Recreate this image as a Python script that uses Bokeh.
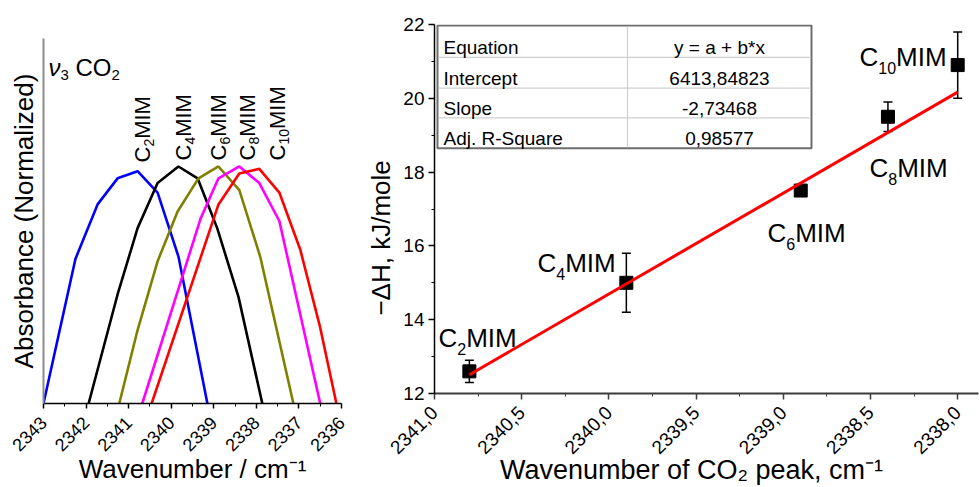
import math
from bokeh.plotting import figure
from bokeh.models import (Range1d, FixedTicker, Label, Whisker, TeeHead,
                          ColumnDataSource, CustomJSTickFormatter)
from bokeh.embed import file_html
from bokeh.resources import INLINE

FONT = "Liberation Sans"

# ---------------- data : left panel (normalized nu3 CO2 band) ----------------
wn_c2 = [2343.00, 2342.25, 2341.73, 2341.26, 2340.79, 2340.32, 2339.83, 2339.15]
ab_c2 = [0.00, 0.61, 0.84, 0.95, 0.98, 0.89, 0.62, 0.00]
wn_c4 = [2341.94, 2341.26, 2340.79, 2340.32, 2339.83, 2339.38, 2338.92, 2338.42, 2337.86]
ab_c4 = [0.00, 0.46, 0.74, 0.93, 1.00, 0.95, 0.74, 0.45, 0.00]
wn_c6 = [2341.22, 2340.79, 2340.32, 2339.85, 2339.36, 2338.89, 2338.40, 2337.91, 2337.13]
ab_c6 = [0.00, 0.31, 0.60, 0.81, 0.95, 1.00, 0.90, 0.62, 0.00]
wn_c8 = [2340.68, 2339.31, 2338.89, 2338.40, 2337.93, 2337.46, 2336.50]
ab_c8 = [0.00, 0.78, 0.95, 1.00, 0.93, 0.77, 0.00]
wn_c10 = [2340.46, 2338.89, 2338.40, 2337.93, 2337.46, 2336.97, 2336.50, 2336.12]
ab_c10 = [0.00, 0.84, 0.97, 0.99, 0.89, 0.65, 0.32, 0.00]
spec_colors = ["#0000FF", "#000000", "#808000", "#FF00FF", "#FF0000"]
chain = ["2", "4", "6", "8", "10"]
left_ticks = [2343, 2342, 2341, 2340, 2339, 2338, 2337, 2336]
left_minor = [2342.5, 2341.5, 2340.5, 2339.5, 2338.5, 2337.5, 2336.5]
left_xtitle = "Wavenumber / cm\u207b\u00b9"
left_ytitle = "Absorbance (Normalized)"

# ---------------- data : right panel (enthalpy vs peak position) ----------------
peak_wn = [2340.80, 2339.90, 2338.90, 2338.40, 2338.00]
dH = [12.6, 15.0, 17.5, 19.5, 20.9]
dH_err = [0.3, 0.8, 0.15, 0.4, 0.9]
fit_intercept = 6413.84823
fit_slope = -2.73468
table_rows = [("Equation", "y = a + b*x"), ("Intercept", "6413,84823"),
              ("Slope", "-2,73468"), ("Adj. R-Square", "0,98577")]
right_xticks = [2341.0, 2340.5, 2340.0, 2339.5, 2339.0, 2338.5, 2338.0]
right_xminor = [2340.75, 2340.25, 2339.75, 2339.25, 2338.75, 2338.25]
right_yticks = [12, 14, 16, 18, 20, 22]
right_yminor = [13, 15, 17, 19, 21]
right_xtitle = "Wavenumber of CO\u2082 peak, cm\u207b\u00b9"
right_ytitle = "\u2212\u0394H, kJ/mole"

# ---------------- text helpers ----------------
ARIAL = {' ': 278, '(': 333, ')': 333, '*': 389, '+': 584, ',': 278, '-': 333, '.': 278,
         '/': 278, '=': 584, 'A': 667, 'C': 722, 'E': 667, 'H': 722, 'I': 278, 'J': 500,
         'M': 833, 'N': 722, 'O': 778, 'R': 722, 'S': 667, 'W': 944, 'a': 556, 'b': 556,
         'c': 500, 'd': 556, 'e': 556, 'f': 278, 'i': 222, 'j': 222, 'k': 500, 'l': 222,
         'm': 833, 'n': 556, 'o': 556, 'p': 556, 'q': 556, 'r': 333, 's': 500, 't': 278,
         'u': 556, 'v': 500, 'x': 500, 'y': 500, 'z': 500, 'ν': 500, 'Δ': 668, '−': 584}


def tw(text, size):
    return sum(ARIAL.get(ch, 556) for ch in text) * size / 1000.0


def lab(p, x, y, text, size, angle=0.0, align="left", style="normal"):
    p.add_layout(Label(x=x, y=y, x_units="screen", y_units="screen", text=text,
                       angle=angle, text_font=FONT, text_font_size=f"{size}px",
                       text_font_style=style, text_align=align,
                       text_baseline="alphabetic", text_color="black"))


def rich(p, x, y, parts, vertical=False):
    adv = 0.0
    for part in parts:
        t, s, sh = part[0], part[1], part[2]
        st = part[3] if len(part) > 3 else "normal"
        lead = len(t) - len(t.lstrip(" "))
        adv += tw(" " * lead, s)
        t = t.strip(" ")
        if vertical:
            lab(p, x - sh, y + adv, t, s, angle=math.pi / 2, style=st)
        else:
            lab(p, x + adv, y + sh, t, s, style=st)
        adv += tw(t, s)


# ---------------- layout constants (page has no margin) ----------------
H = 487
W1, L1, T1, FW1, FH1 = 360, 43, 38, 298, 365
W2, L2, T2, FW2, FH2 = 619, 74, 24, 544, 370
OX1, OY1 = L1, T1 + FH1            # screen origin of left frame
OX2, OY2 = W1 + L2, T2 + FH2       # screen origin of right frame
PX_PER_UNIT_R = 174.4
XR1 = 2341.0 - FW2 / PX_PER_UNIT_R


def s1(sx, sy):
    return sx - OX1, OY1 - sy


def s2(sx, sy):
    return sx - OX2, OY2 - sy


def style_axis(ax, color, width, size, tick_out, minor_out):
    ax.axis_line_color = color
    ax.axis_line_width = width
    ax.major_tick_line_color = color
    ax.minor_tick_line_color = color
    ax.major_tick_line_width = 1.5
    ax.major_tick_out, ax.major_tick_in = tick_out, 0
    ax.minor_tick_out, ax.minor_tick_in = minor_out, 0
    ax.major_label_text_font = FONT
    ax.major_label_text_font_size = f"{size}px"
    ax.major_label_text_color = "black"
    ax.axis_label_text_font = FONT
    ax.axis_label_text_font_style = "normal"
    ax.axis_label_text_color = "black"


# ================= left figure =================
p1 = figure(width=W1, height=H, output_backend="svg", toolbar_location=None,
            x_range=Range1d(2343, 2336), y_range=Range1d(0, 1.54),
            min_border_left=L1, min_border_right=W1 - L1 - FW1,
            min_border_top=T1, min_border_bottom=H - T1 - FH1)
p1.title.visible = False
p1.outline_line_color = None
p1.grid.visible = False

spectra = [(wn_c2, ab_c2), (wn_c4, ab_c4), (wn_c6, ab_c6), (wn_c8, ab_c8), (wn_c10, ab_c10)]
for (wx, ay), col in zip(spectra, spec_colors):
    p1.line(wx, ay, line_color=col, line_width=2.6)

xa = p1.xaxis[0]
xa.ticker = FixedTicker(ticks=left_ticks, minor_ticks=left_minor)
style_axis(xa, "black", 1.5, 18, 5, 3)
xa.major_label_orientation = math.pi / 4
xa.major_label_standoff = 11
xa.axis_label = left_xtitle
xa.axis_label_text_font_size = "26px"
xa.axis_label_standoff = -6

ya = p1.yaxis[0]
ya.ticker = FixedTicker(ticks=[])
style_axis(ya, "#8c8c8c", 2, 18, 0, 0)
ya.major_tick_line_color = None
ya.minor_tick_line_color = None
ya.major_label_standoff = 0
ya.axis_label = left_ytitle
ya.axis_label_text_font_size = "26px"
ya.axis_label_standoff = 5

rich(p1, *s1(48, 67), [("ν", 24, 0, "italic"), ("3", 15, -7), (" CO", 24, 0), ("2", 15, -7)])
label_pos_left = [(142, 162), (183, 160), (218, 160), (247, 160), (277, 160)]
for (bx, by), n in zip(label_pos_left, chain):
    rich(p1, *s1(bx, by), [("C", 22, 0), (n, 14, -6), ("MIM", 22, 0)], vertical=True)

# ================= right figure =================
p2 = figure(width=W2, height=H, output_backend="svg", toolbar_location=None,
            x_range=Range1d(2341.0, XR1), y_range=Range1d(12, 22),
            min_border_left=L2, min_border_right=W2 - L2 - FW2,
            min_border_top=T2, min_border_bottom=H - T2 - FH2)
p2.title.visible = False
p2.outline_line_color = None
p2.grid.visible = False
p2.styles = {"position": "absolute", "left": f"{W1}px", "top": "0px"}


def dx2(rx):
    return 2341.0 + (XR1 - 2341.0) * rx / FW2


def dy2(ry):
    return 12 + 10.0 * ry / FH2


tx0, tx1, ty0, ty1 = 3, 377, 246, 369
p2.quad(left=dx2(tx0), right=dx2(tx1), bottom=dy2(ty0), top=dy2(ty1),
        fill_color="white", line_color="#6e6e6e", line_width=2)
row_lines = [337, 306.3, 276.3]
p2.segment(x0=[dx2(tx0 + 1)] * 3, x1=[dx2(tx1 - 1)] * 3,
           y0=[dy2(r) for r in row_lines], y1=[dy2(r) for r in row_lines],
           line_color="#cfcfcf", line_width=1.2)
p2.segment(x0=[dx2(193)], x1=[dx2(193)], y0=[dy2(ty0 + 1)], y1=[dy2(ty1 - 1)],
           line_color="#cfcfcf", line_width=1.2)
row_edges = [369, 337, 306.3, 276.3, 246]
for i, (k, v) in enumerate(table_rows):
    yc = (row_edges[i] + row_edges[i + 1]) / 2.0 - 6.5
    lab(p2, 9, yc, k, 19)
    lab(p2, 285, yc, v, 19, align="center")

src = ColumnDataSource(dict(x=peak_wn, y=dH,
                            upper=[a + e for a, e in zip(dH, dH_err)],
                            lower=[a - e for a, e in zip(dH, dH_err)]))
p2.add_layout(Whisker(base="x", upper="upper", lower="lower", source=src,
                      dimension="height", line_color="black", line_width=1.5,
                      upper_head=TeeHead(size=9, line_color="black", line_width=1.5),
                      lower_head=TeeHead(size=9, line_color="black", line_width=1.5)))
p2.scatter("x", "y", source=src, marker="square", size=13, color="black")
fx = [max(peak_wn), min(peak_wn)]
p2.line(fx, [fit_intercept + fit_slope * v for v in fx], line_color="#FF0000", line_width=3)

xb = p2.xaxis[0]
xb.ticker = FixedTicker(ticks=right_xticks, minor_ticks=right_xminor)
xb.formatter = CustomJSTickFormatter(code="return tick.toFixed(1).replace('.', ',');")
style_axis(xb, "#3c3c3c", 2, 19, 6, 3)
xb.major_label_orientation = math.pi / 4
xb.major_label_standoff = 10
xb.axis_label = right_xtitle + "\u00a0" * 4
xb.axis_label_text_font_size = "27px"
xb.axis_label_standoff = -8

yb = p2.yaxis[0]
yb.ticker = FixedTicker(ticks=right_yticks, minor_ticks=right_yminor)
style_axis(yb, "black", 1.5, 19, 6, 3)
yb.major_label_standoff = 4
yb.axis_label = right_ytitle + "\u00a0" * 8
yb.axis_label_text_font_size = "26px"
yb.axis_label_standoff = 4

label_pos_right = [(438, 338), (537, 263), (767, 233), (869, 168), (859, 57)]
for (bx, by), n in zip(label_pos_right, chain):
    rich(p2, *s2(bx, by), [("C", 26, 0), (n, 16, -11), ("MIM", 26, 0)])

open("out.html", "w").write(file_html([p1, p2], INLINE))
